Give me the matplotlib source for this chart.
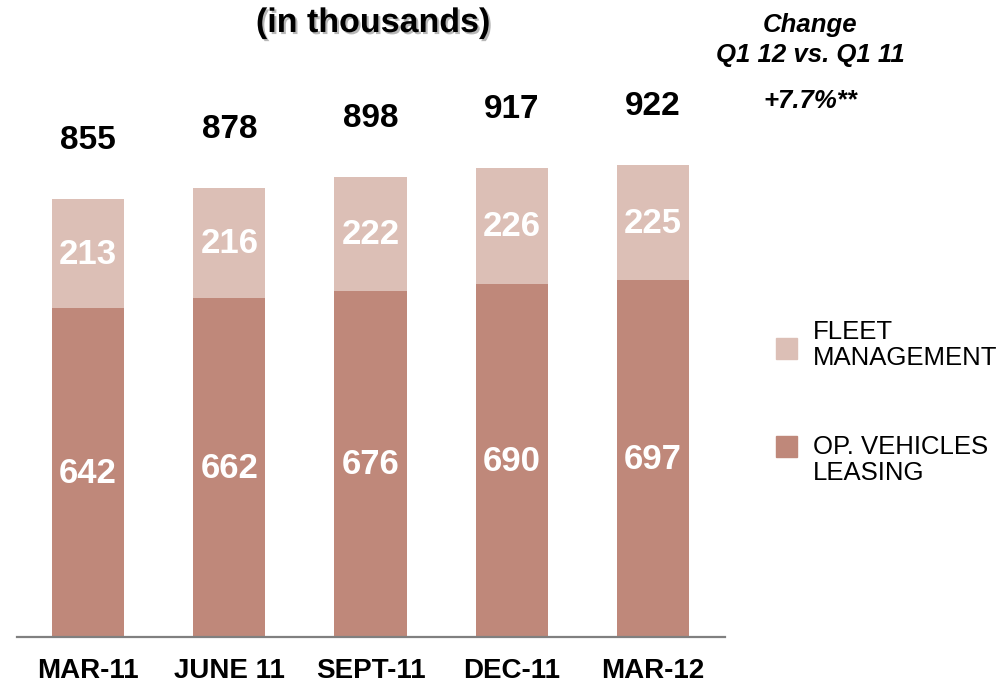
import matplotlib.pyplot as plt
import matplotlib.patheffects as pe
from matplotlib.patches import Rectangle
import numpy as np

plt.rcParams['font.family'] = ['Liberation Sans', 'DejaVu Sans']

months = ['MAR-11', 'JUNE 11', 'SEPT-11', 'DEC-11', 'MAR-12']
leasing = [642, 662, 676, 690, 697]
fleet = [213, 216, 222, 226, 225]
totals = [855, 878, 898, 917, 922]
change_text = ['Change', 'Q1 12 vs. Q1 11', '+7.7%**']
series_names = ['FLEET\nMANAGEMENT', 'OP. VEHICLES\nLEASING']

c_fleet = '#dcbfb6'
c_leasing = '#bf887a'

W, H = 1002, 683
fig = plt.figure(figsize=(W / 100, H / 100), dpi=100)
ax = fig.add_axes([17 / W, 46 / H, (725 - 17) / W, 537 / H])

x = np.arange(len(months))
width = 0.51
ax.bar(x, leasing, width, color=c_leasing)
ax.bar(x, fleet, width, bottom=leasing, color=c_fleet)

for i in range(len(months)):
    ax.annotate(str(leasing[i]), (x[i], leasing[i] / 2), xytext=(0, 2),
                textcoords='offset points', ha='center', va='center_baseline',
                color='white', fontsize=25, fontweight='bold')
    ax.annotate(str(fleet[i]), (x[i], leasing[i] + fleet[i] / 2), xytext=(0, 2),
                textcoords='offset points', ha='center', va='center_baseline',
                color='white', fontsize=25, fontweight='bold')
    ax.annotate(str(totals[i]), (x[i], leasing[i] + fleet[i]), xytext=(0, 36),
                textcoords='offset points', ha='center', va='baseline',
                fontsize=24, fontweight='bold', annotation_clip=False)

ax.set_xlim(-0.503, 4.51)
ax.set_ylim(0, 1049)
ax.set_xticks(x)
ax.set_xticklabels(months, fontsize=20, fontweight='bold')
ax.tick_params(axis='x', length=0, pad=15)
ax.set_yticks([])
for side in ['top', 'right', 'left']:
    ax.spines[side].set_visible(False)
ax.spines['bottom'].set_color('#808080')
ax.spines['bottom'].set_linewidth(1.6)

# title with a soft drop shadow
fig.text(373 / W, 1 - 32 / H, '(in thousands)', ha='center', va='baseline',
         fontsize=24.5, fontweight='bold',
         path_effects=[pe.withSimplePatchShadow(offset=(1.5, -1.5), shadow_rgbFace='#999999', alpha=0.7)])

# change box on the right
for txt, yb in zip(change_text, [32, 62, 108]):
    fig.text(810 / W, 1 - yb / H, txt, ha='center', va='baseline',
             fontsize=18.5, fontweight='bold', style='italic')

# legend
for name, color, ysq, ytxt in zip(series_names, [c_fleet, c_leasing], [348, 446], [331, 446]):
    fig.patches.append(Rectangle((776 / W, 1 - (ysq + 10.5) / H), 21 / W, 21 / H,
                                 transform=fig.transFigure, color=color))
    fig.text(813 / W, 1 - (ytxt - 11) / H, name, ha='left', va='top',
             fontsize=18.5, linespacing=1.1)

fig.savefig('out.png', dpi=100)
